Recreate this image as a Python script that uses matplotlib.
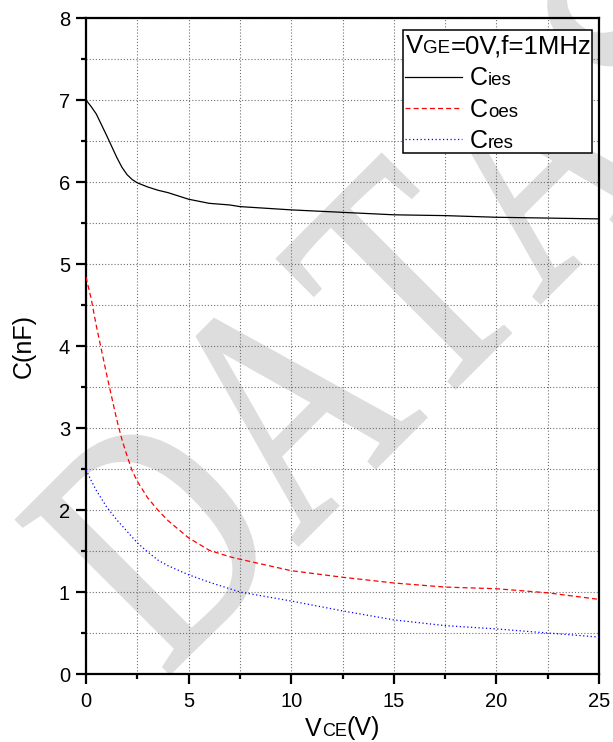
import numpy as np
import matplotlib
matplotlib.use('Agg')
import matplotlib.pyplot as plt
from matplotlib.textpath import TextPath
from matplotlib.patches import PathPatch, Rectangle
from matplotlib.font_manager import FontProperties
from matplotlib.transforms import Affine2D
from matplotlib.lines import Line2D

plt.rcParams['font.family'] = ['Liberation Sans', 'DejaVu Sans']

# ---------------- data ----------------
V = [0, 0.25, 0.5, 1, 1.5, 1.75, 2, 2.25, 2.5, 3, 3.5, 4, 5, 6, 7, 7.5, 10, 12.5, 15, 17.5, 20, 22.5, 25]
C_ies = [7.00, 6.92, 6.83, 6.57, 6.30, 6.18, 6.09, 6.03, 5.99, 5.94, 5.90, 5.87, 5.79, 5.74, 5.72, 5.70,
         5.66, 5.63, 5.60, 5.59, 5.57, 5.56, 5.55]
C_oes = [4.84, 4.58, 4.25, 3.66, 3.10, 2.86, 2.66, 2.48, 2.35, 2.15, 2.00, 1.87, 1.66, 1.51, 1.43, 1.40,
         1.26, 1.18, 1.11, 1.06, 1.04, 0.99, 0.91]
C_res = [2.49, 2.36, 2.24, 2.04, 1.88, 1.81, 1.74, 1.67, 1.60, 1.49, 1.39, 1.32, 1.21, 1.12, 1.04, 1.00,
         0.89, 0.77, 0.66, 0.59, 0.55, 0.50, 0.45]
x_major = [0, 5, 10, 15, 20, 25]
x_minor = [2.5, 7.5, 12.5, 17.5, 22.5]
y_major = [0, 1, 2, 3, 4, 5, 6, 7, 8]
y_minor = [0.5, 1.5, 2.5, 3.5, 4.5, 5.5, 6.5, 7.5]
watermark = ['D', 'A', 'T', 'A', 'S']

W, H = 613, 742
fig = plt.figure(figsize=(W / 100, H / 100), dpi=100)
fig.patch.set_facecolor('white')

# ---------------- watermark ----------------
fp_serif = FontProperties(family='Liberation Serif')
wm_centers = [-385, -119, 123, 365, 600]   # along-baseline positions (x - y, image px)
base_sum = 843                            # baseline: x + y (image px)
for ch, c in zip(watermark, wm_centers):
    tp = TextPath((0, 0), ch, size=331, prop=fp_serif)
    bb = tp.get_extents()
    cx = (bb.x0 + bb.x1) / 2
    X = (base_sum + c) / 2
    Y = H - (base_sum - c) / 2
    tr = Affine2D().translate(-cx, 0).scale(0.77, 1).rotate_deg(45).translate(X, Y)
    patch = PathPatch(tp, transform=tr, facecolor='#dddddd', edgecolor='#dddddd',
                      lw=2.5, zorder=-1)
    fig.add_artist(patch)

# ---------------- axes ----------------
ax = fig.add_axes([86 / W, 1 - 674 / H, 513 / W, 656 / H])
ax.patch.set_visible(False)

ax.plot(V, C_ies, color='black', lw=0.9, zorder=3)
ax.plot(V, C_oes, color='red', lw=0.9, ls=(0, (4, 2.5)), zorder=3)
ax.plot(V, C_res, color='blue', lw=0.9, ls=(0, (1, 2)), zorder=3)

ax.set_xlim(0, 25)
ax.set_ylim(0, 8)
ax.set_xticks(x_major)
ax.set_xticks(x_minor, minor=True)
ax.set_yticks(y_major)
ax.set_yticks(y_minor, minor=True)
ax.grid(True, which='both', color='#707070', ls=(0, (1, 1.8)), lw=0.8)

for s in ax.spines.values():
    s.set_linewidth(1.6)
ax.tick_params(which='major', length=7, width=1.6, labelsize=14.5, direction='out')
ax.tick_params(which='minor', length=3.5, width=1.6, direction='out')
ax.tick_params(axis='y', which='major', pad=4.5)
ax.tick_params(axis='x', which='major', pad=6)

renderer = fig.canvas.get_renderer()


def rich(x_px, y_px, pieces, ha='left', zorder=6):
    widths = []
    for s, fs in pieces:
        t = fig.text(0, 0, s, fontsize=fs)
        widths.append(t.get_window_extent(renderer).width)
        t.remove()
    total = sum(widths)
    cur = x_px - (total / 2 if ha == 'center' else 0)
    for (s, fs), w in zip(pieces, widths):
        fig.text(cur / W, 1 - y_px / H, s, fontsize=fs, va='baseline', ha='left',
                 zorder=zorder)
        cur += w


# axis labels
rich(342.5, 735.5, [('V', 18), ('CE', 13), ('(V)', 18)], ha='center')
fig.text(24 / W, 1 - 346 / H, 'C(nF)', rotation=90, fontsize=18, ha='center', va='center')

# ---------------- legend ----------------
box = Rectangle((403 / W, 1 - 153 / H), 189 / W, 123 / H, transform=fig.transFigure,
                facecolor='white', edgecolor='black', lw=1.1, zorder=5)
fig.add_artist(box)
rich(406, 53.3, [('V', 18.5), ('GE', 13.5), ('=0V,f=1MHz', 18.5)])
legend_rows = [('ies', 'black', '-', 76.7, 85),
               ('oes', 'red', (0, (4, 2.5)), 108.3, 116.7),
               ('res', 'blue', (0, (1, 2)), 139, 148.3)]
for sub, col, ls, ly, by in legend_rows:
    fig.add_artist(Line2D([405 / W, 462 / W], [1 - ly / H, 1 - ly / H], transform=fig.transFigure,
                          color=col, ls=ls, lw=0.9, zorder=6))
    rich(470, by, [('C', 18), (sub, 13.5)])

fig.savefig('out.png', dpi=100)
